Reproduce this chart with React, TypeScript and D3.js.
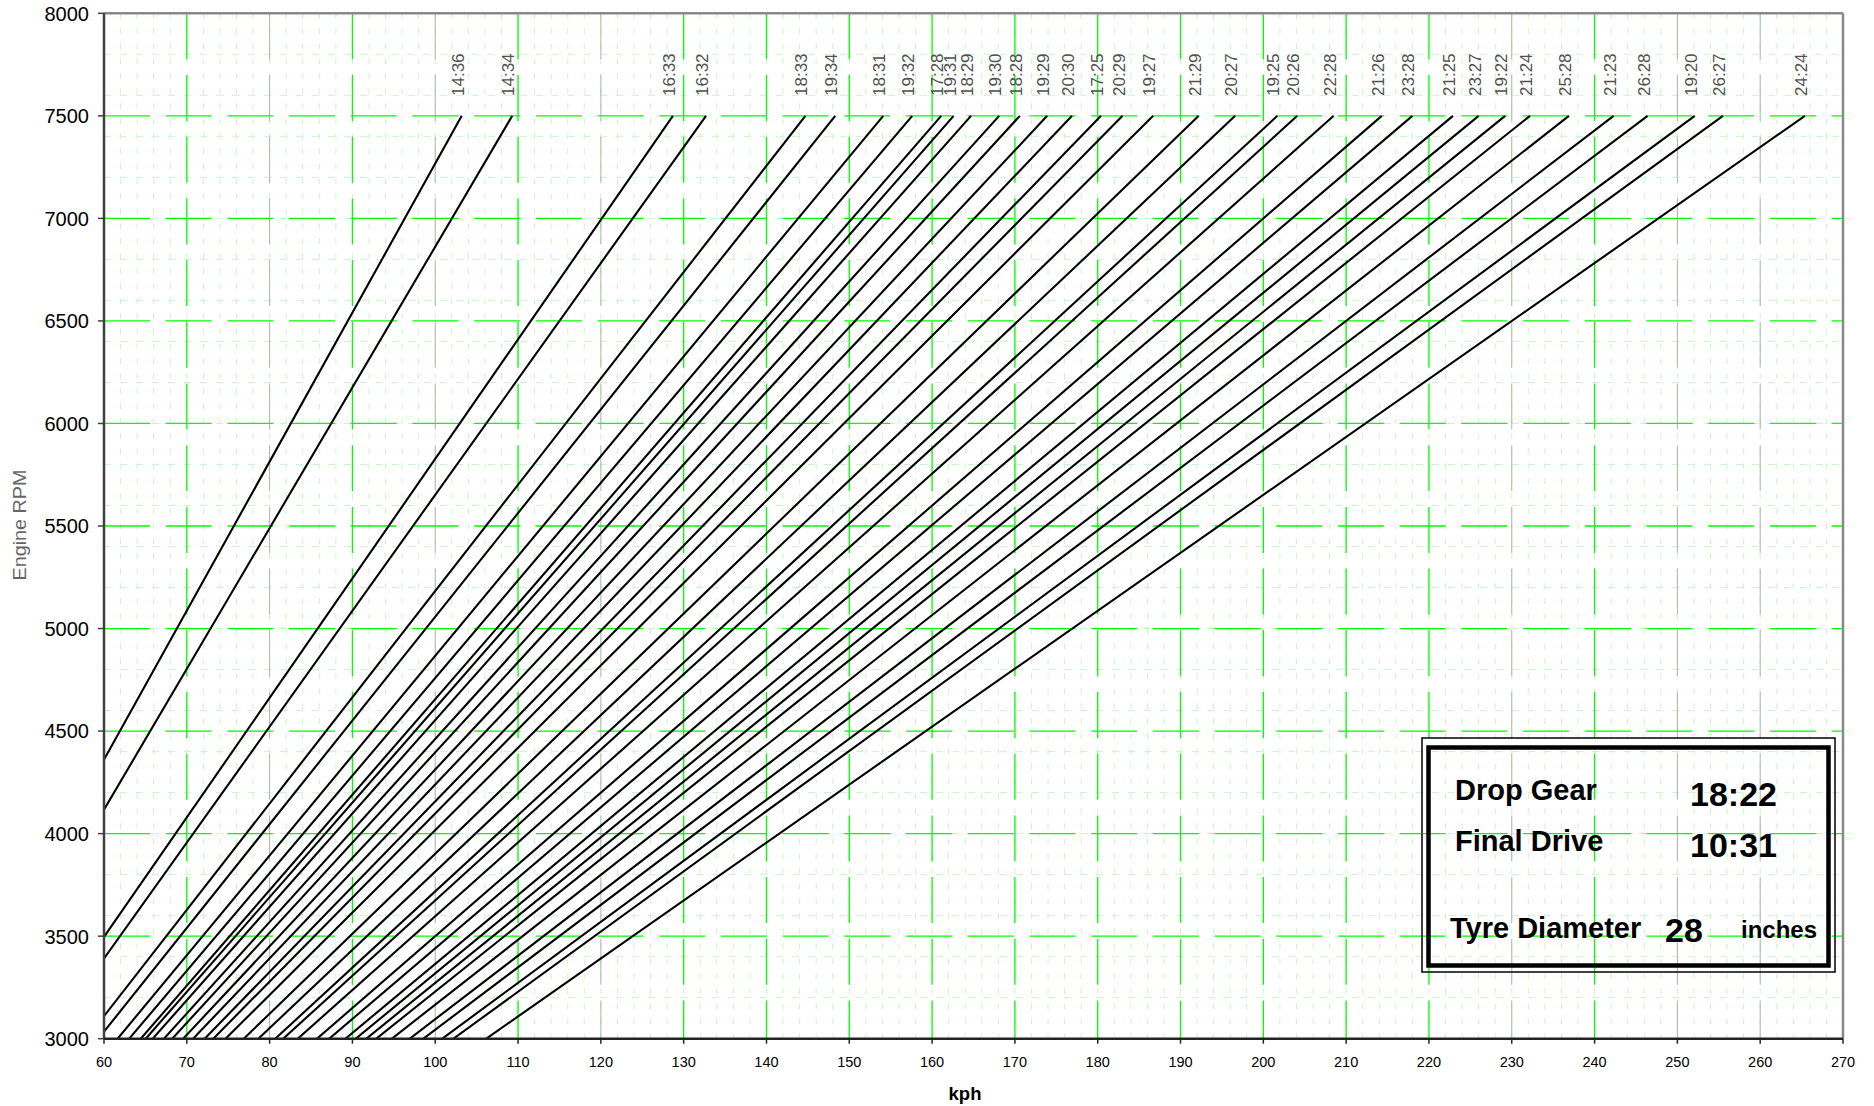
import React from "react";
import * as d3 from "d3";

const W = 1874;
const H = 1106;

// Gear ratio labels (one per line), left to right
const ratioLabels = [
  "14:36", "14:34", "16:33", "16:32", "18:33", "19:34", "18:31", "19:32",
  "17:28", "19:31", "18:29", "19:30", "18:28", "19:29", "20:30", "17:25",
  "20:29", "19:27", "21:29", "20:27", "19:25", "20:26", "22:28", "21:26",
  "23:28", "21:25", "23:27", "19:22", "21:24", "25:28", "21:23", "26:28",
  "19:20", "26:27", "24:24",
];

// Road speed (kph) each line reaches at 7500 rpm
const topSpeedKph = [
  103.2, 109.3, 128.7, 132.7, 144.7, 148.3, 154.1, 157.6,
  161.1, 162.6, 164.7, 168.1, 170.6, 173.9, 176.9, 180.4,
  183.0, 186.7, 192.2, 196.6, 201.7, 204.1, 208.5, 214.3,
  218.0, 222.9, 226.0, 229.2, 232.2, 236.9, 242.3, 246.4,
  252.1, 255.5, 265.4,
];
const topRpm = 7500;
const originKph = 0;
const originRpm = 0;

const xTicks = [60, 70, 80, 90, 100, 110, 120, 130, 140, 150, 160, 170, 180, 190, 200, 210, 220, 230, 240, 250, 260, 270];
const yTicks = [3000, 3500, 4000, 4500, 5000, 5500, 6000, 6500, 7000, 7500, 8000];
// vertical gridlines that show up greyish in the reference picture
const greyishX = [80, 100, 120, 230, 250, 260];
const minorXStep = 2;
const minorYStep = 200;

const dropGear = "18:22";
const finalDrive = "10:31";
const tyreDiameter = "28";

const PL = 104, PR = 1843, PT = 13.3, PB = 1038.7;

export default function App() {
  const x = d3.scaleLinear().domain([60, 270]).range([PL, PR]);
  const y = d3.scaleLinear().domain([3000, 8000]).range([PB, PT]);

  const minorX = d3.range(60, 270.001, minorXStep);
  const minorY = d3.range(3000, 8000.001, minorYStep);

  const line = d3
    .line<[number, number]>()
    .x((d) => x(d[0]))
    .y((d) => y(d[1]));

  const green = "#00ff00";
  const light = "#c9f7c9";

  return (
    <svg
      width={W}
      height={H}
      style={{ position: "absolute", left: 0, top: 0, background: "#fff" }}
      fontFamily="Arial, 'Liberation Sans', sans-serif"
    >
      <defs>
        <clipPath id="plot">
          <rect x={PL} y={PT} width={PR - PL} height={PB - PT} />
        </clipPath>
      </defs>
      <rect x={0} y={0} width={W} height={H} fill="#fff" />

      {/* minor grid */}
      <g stroke={light} strokeWidth={1}>
        {minorX.map((v) => (
          <line key={"mx" + v} x1={x(v)} x2={x(v)} y1={PT} y2={PB} strokeDasharray="6,9" />
        ))}
        {minorY.map((v) => (
          <line key={"my" + v} x1={PL} x2={PR} y1={y(v)} y2={y(v)} strokeDasharray="7,9" />
        ))}
      </g>

      {/* major grid */}
      <g strokeWidth={1.3} strokeDasharray="46,15.7">
        {xTicks.slice(1, -1).map((v) => (
          <line
            key={"gx" + v}
            x1={x(v)}
            x2={x(v)}
            y1={PT}
            y2={PB}
            stroke={greyishX.includes(v) ? "#a9b5a9" : green}
            strokeWidth={greyishX.includes(v) ? 1 : 1.3}
          />
        ))}
        {yTicks.slice(1, -1).map((v) => (
          <line key={"gy" + v} x1={PL} x2={PR} y1={y(v)} y2={y(v)} stroke={green} />
        ))}
      </g>

      {/* ratio lines */}
      <g clipPath="url(#plot)" fill="none" stroke="#000" strokeWidth={2.1}>
        {topSpeedKph.map((v, i) => (
          <path
            key={"l" + i}
            d={line([
              [originKph, originRpm],
              [v, topRpm],
            ]) as string}
          />
        ))}
      </g>

      {/* line labels */}
      <g fontSize={17} fill="#505050">
        {ratioLabels.map((t, i) => (
          <text
            key={"t" + i}
            transform={`translate(${x(topSpeedKph[i]) - 4},96) rotate(-90)`}
            dy="0.35em"
          >
            {t}
          </text>
        ))}
      </g>

      {/* plot border & axes */}
      <line x1={PL} x2={PR} y1={PT} y2={PT} stroke="#888" strokeWidth={2.5} />
      <line x1={PR} x2={PR} y1={PT} y2={PB} stroke="#888" strokeWidth={2.5} />
      <line x1={PL} x2={PL} y1={PT} y2={PB} stroke="#404040" strokeWidth={2.5} />
      <line x1={PL} x2={PR} y1={PB} y2={PB} stroke="#222" strokeWidth={2.5} />

      {/* y axis ticks */}
      <g>
        {yTicks.map((v) => (
          <g key={"yt" + v}>
            <line x1={PL - 6} x2={PL} y1={y(v)} y2={y(v)} stroke="#404040" strokeWidth={1.5} />
            <text x={89} y={y(v)} dy="0.37em" textAnchor="end" fontSize={20} fill="#000">
              {v}
            </text>
          </g>
        ))}
      </g>

      {/* x axis ticks */}
      <g>
        {xTicks.map((v) => (
          <g key={"xt" + v}>
            <line x1={x(v)} x2={x(v)} y1={PB} y2={PB + 5} stroke="#222" strokeWidth={1.5} />
            <text x={x(v)} y={1067} textAnchor="middle" fontSize={14.5} fill="#000">
              {v}
            </text>
          </g>
        ))}
      </g>

      {/* axis titles */}
      <text x={965} y={1100} textAnchor="middle" fontSize={18.5} fontWeight="bold" fill="#000">
        kph
      </text>
      <text
        transform="translate(20,525) rotate(-90)"
        textAnchor="middle"
        dy="0.35em"
        fontSize={17.5}
        fill="#666"
        textLength={111}
        lengthAdjust="spacingAndGlyphs"
      >
        Engine RPM
      </text>

      {/* info box */}
      <rect x={1422} y={738} width={413} height={234} fill="none" stroke="#000" strokeWidth={1.5} />
      <rect x={1428.5} y={747.5} width={400} height={218} fill="none" stroke="#000" strokeWidth={4.5} />
      <g fontWeight="bold" fill="#000">
        <text x={1455} y={800} fontSize={29}>Drop Gear</text>
        <text x={1690} y={806} fontSize={34}>{dropGear}</text>
        <text x={1455} y={851} fontSize={29}>Final Drive</text>
        <text x={1690} y={857} fontSize={34}>{finalDrive}</text>
        <text x={1450} y={938} fontSize={29}>Tyre Diameter</text>
        <text x={1665} y={942} fontSize={34}>{tyreDiameter}</text>
        <text x={1741} y={938} fontSize={24}>inches</text>
      </g>
    </svg>
  );
}
